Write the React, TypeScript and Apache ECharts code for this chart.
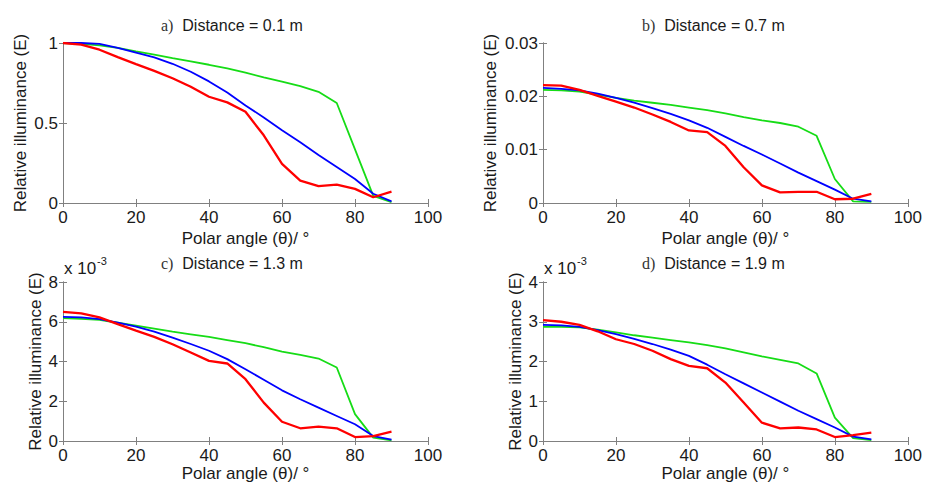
import React, { useEffect, useRef } from "react";
import * as echarts from "echarts";

// Polar angle samples (degrees)
const angles = [0, 5, 10, 15, 20, 25, 30, 35, 40, 45, 50, 55, 60, 65, 70, 75, 80, 85, 90];

// a) Distance = 0.1 m
const aRed = [1.0, 0.99, 0.958, 0.912, 0.868, 0.826, 0.78, 0.727, 0.664, 0.629, 0.57, 0.423, 0.245, 0.14, 0.105, 0.115, 0.088, 0.036, 0.071];
const aGreen = [1.0, 0.995, 0.985, 0.97, 0.948, 0.928, 0.905, 0.885, 0.864, 0.842, 0.815, 0.785, 0.758, 0.73, 0.695, 0.625, 0.335, 0.045, 0.005];
const aBlue = [1.0, 1.0, 0.995, 0.97, 0.94, 0.91, 0.87, 0.82, 0.76, 0.69, 0.61, 0.535, 0.455, 0.38, 0.3, 0.225, 0.15, 0.058, 0.01];

// b) Distance = 0.7 m
const bRed = [0.0221, 0.022, 0.0212, 0.0201, 0.019, 0.0179, 0.0166, 0.0152, 0.0136, 0.0133, 0.0107, 0.0067, 0.0033, 0.002, 0.0021, 0.0021, 0.0007, 0.0008, 0.0017];
const bGreen = [0.0212, 0.0211, 0.0209, 0.0203, 0.0197, 0.0192, 0.0188, 0.0184, 0.0179, 0.0174, 0.0168, 0.0161, 0.0155, 0.015, 0.0143, 0.0126, 0.0045, 0.0003, 0.0002];
const bBlue = [0.0216, 0.0214, 0.0211, 0.0205, 0.0197, 0.0188, 0.0178, 0.0167, 0.0155, 0.0141, 0.0124, 0.0107, 0.0091, 0.0074, 0.0057, 0.0041, 0.0025, 0.0008, 0.0003];

// c) Distance = 1.3 m (values in units of 10^-3)
const cRed = [6.5, 6.42, 6.22, 5.88, 5.55, 5.24, 4.87, 4.45, 4.03, 3.9, 3.11, 1.93, 0.97, 0.64, 0.72, 0.64, 0.2, 0.25, 0.47];
const cGreen = [6.18, 6.14, 6.1, 5.95, 5.8, 5.65, 5.5, 5.37, 5.24, 5.08, 4.92, 4.72, 4.5, 4.33, 4.15, 3.7, 1.35, 0.17, 0.03];
const cBlue = [6.25, 6.22, 6.13, 5.96, 5.76, 5.5, 5.2, 4.88, 4.54, 4.12, 3.61, 3.08, 2.55, 2.1, 1.68, 1.26, 0.84, 0.25, 0.07];

// d) Distance = 1.9 m (values in units of 10^-3)
const dRed = [3.04, 3.0, 2.92, 2.76, 2.56, 2.44, 2.27, 2.06, 1.89, 1.83, 1.47, 0.97, 0.46, 0.32, 0.34, 0.29, 0.1, 0.15, 0.21];
const dGreen = [2.87, 2.87, 2.86, 2.8, 2.73, 2.66, 2.6, 2.54, 2.48, 2.41, 2.33, 2.23, 2.13, 2.04, 1.95, 1.7, 0.59, 0.07, 0.02];
const dBlue = [2.92, 2.91, 2.87, 2.79, 2.69, 2.57, 2.44, 2.3, 2.14, 1.92, 1.68, 1.45, 1.22, 0.99, 0.76, 0.55, 0.34, 0.11, 0.04];

const panelLetters = ["a)", "b)", "c)", "d)"];
const panelTitles = ["Distance = 0.1 m", "Distance = 0.7 m", "Distance = 1.3 m", "Distance = 1.9 m"];
const yMaxes = [1, 0.03, 8, 4];
const yIntervals = [0.5, 0.01, 2, 1];
const xMin = 0;
const xMax = 100;
const xInterval = 20;
const yName = "Relative illuminance (E)";
const xName = "Polar angle (θ)/ °";
const scaleLabel = "x 10";
const scaleExp = "-3";

const FONT = "'Liberation Sans', Arial, Helvetica, sans-serif";
const TEXT = "#1a1a1a";
const AXIS = "#808080";
const RED = "#ff0000";
const GREEN = "#16dc16";
const BLUE = "#0000ff";

export default function App() {
  const ref = useRef<HTMLDivElement>(null);

  useEffect(() => {
    document.body.style.margin = "0";
    if (!ref.current) return;
    const chart = echarts.init(ref.current, null, { renderer: "svg" });

    const panelData = [
      [aRed, aGreen, aBlue],
      [bRed, bGreen, bBlue],
      [cRed, cGreen, cBlue],
      [dRed, dGreen, dBlue],
    ];
    const grids = [
      { left: 63, top: 43, width: 365, height: 160 },
      { left: 543, top: 43, width: 365, height: 160 },
      { left: 63, top: 282, width: 365, height: 159 },
      { left: 543, top: 282, width: 365, height: 159 },
    ];
    const yNameGaps = [34, 44, 19, 19];
    const xNameGaps = [27, 27, 23, 23];

    const xAxes: any[] = [];
    const yAxes: any[] = [];
    const series: any[] = [];
    const graphics: any[] = [];

    grids.forEach((g, i) => {
      const tick = { show: true, inside: true, length: 4, lineStyle: { color: AXIS, width: 1 } };
      const line = { show: true, lineStyle: { color: AXIS, width: 1 } };
      xAxes.push({
        type: "value", gridIndex: i, position: "bottom", min: xMin, max: xMax, interval: xInterval,
        axisLine: line, axisTick: tick, splitLine: { show: false },
        axisLabel: { color: TEXT, fontSize: 17, fontFamily: FONT, margin: 6 },
        name: xName, nameLocation: "middle", nameGap: xNameGaps[i],
        nameTextStyle: { color: TEXT, fontSize: 17, fontFamily: FONT },
      });
      xAxes.push({
        type: "value", gridIndex: i, position: "top", min: xMin, max: xMax, interval: xInterval,
        axisLine: line, axisTick: tick, splitLine: { show: false }, axisLabel: { show: false },
      });
      yAxes.push({
        type: "value", gridIndex: i, position: "left", min: 0, max: yMaxes[i], interval: yIntervals[i],
        axisLine: line, axisTick: tick, splitLine: { show: false },
        axisLabel: { color: TEXT, fontSize: 17, fontFamily: FONT, margin: 5 },
        name: yName, nameLocation: "middle", nameRotate: 90, nameGap: yNameGaps[i],
        nameTextStyle: { color: TEXT, fontSize: 17, fontFamily: FONT },
      });
      yAxes.push({
        type: "value", gridIndex: i, position: "right", min: 0, max: yMaxes[i], interval: yIntervals[i],
        axisLine: line, axisTick: tick, splitLine: { show: false }, axisLabel: { show: false },
      });

      const [r, gr, b] = panelData[i];
      const mk = (vals: number[], color: string, width: number, name: string) => ({
        type: "line", name, xAxisIndex: 2 * i, yAxisIndex: 2 * i,
        data: angles.map((a, k) => [a, vals[k]]),
        symbol: "none", smooth: false,
        lineStyle: { color, width },
        itemStyle: { color },
        z: 3,
      });
      series.push(mk(gr, GREEN, 1.8, "green"));
      series.push(mk(b, BLUE, 1.8, "blue"));
      series.push(mk(r, RED, 2.3, "red"));

      const titleX = i % 2 === 0 ? 161 : 642;
      const titleY = i < 2 ? 25 : 263;
      graphics.push({
        type: "text", x: titleX, y: titleY,
        style: {
          text: `{p|${panelLetters[i]}}  ${panelTitles[i]}`,
          fill: TEXT, font: `16px ${FONT}`,
          textAlign: "left", textVerticalAlign: "middle",
          rich: { p: { fontFamily: "'Liberation Serif', 'Times New Roman', serif", fontSize: 16, fill: "#333" } },
        },
      });
      if (i >= 2) {
        const sx = i === 2 ? 64 : 544;
        graphics.push({
          type: "text", x: sx, y: 268,
          style: { text: scaleLabel, fill: TEXT, font: `17px ${FONT}`, textAlign: "left", textVerticalAlign: "middle" },
        });
        graphics.push({
          type: "text", x: sx + 33, y: 261,
          style: { text: scaleExp, fill: TEXT, font: `11px ${FONT}`, textAlign: "left", textVerticalAlign: "middle" },
        });
      }
    });

    chart.setOption({
      animation: false,
      backgroundColor: "#ffffff",
      textStyle: { fontFamily: FONT },
      grid: grids.map((g) => ({ ...g, containLabel: false })),
      xAxis: xAxes,
      yAxis: yAxes,
      series,
      graphic: graphics,
    });

    return () => chart.dispose();
  }, []);

  return (
    <div
      ref={ref}
      style={{ position: "absolute", left: 0, top: 0, width: 925, height: 487 }}
    />
  );
}
